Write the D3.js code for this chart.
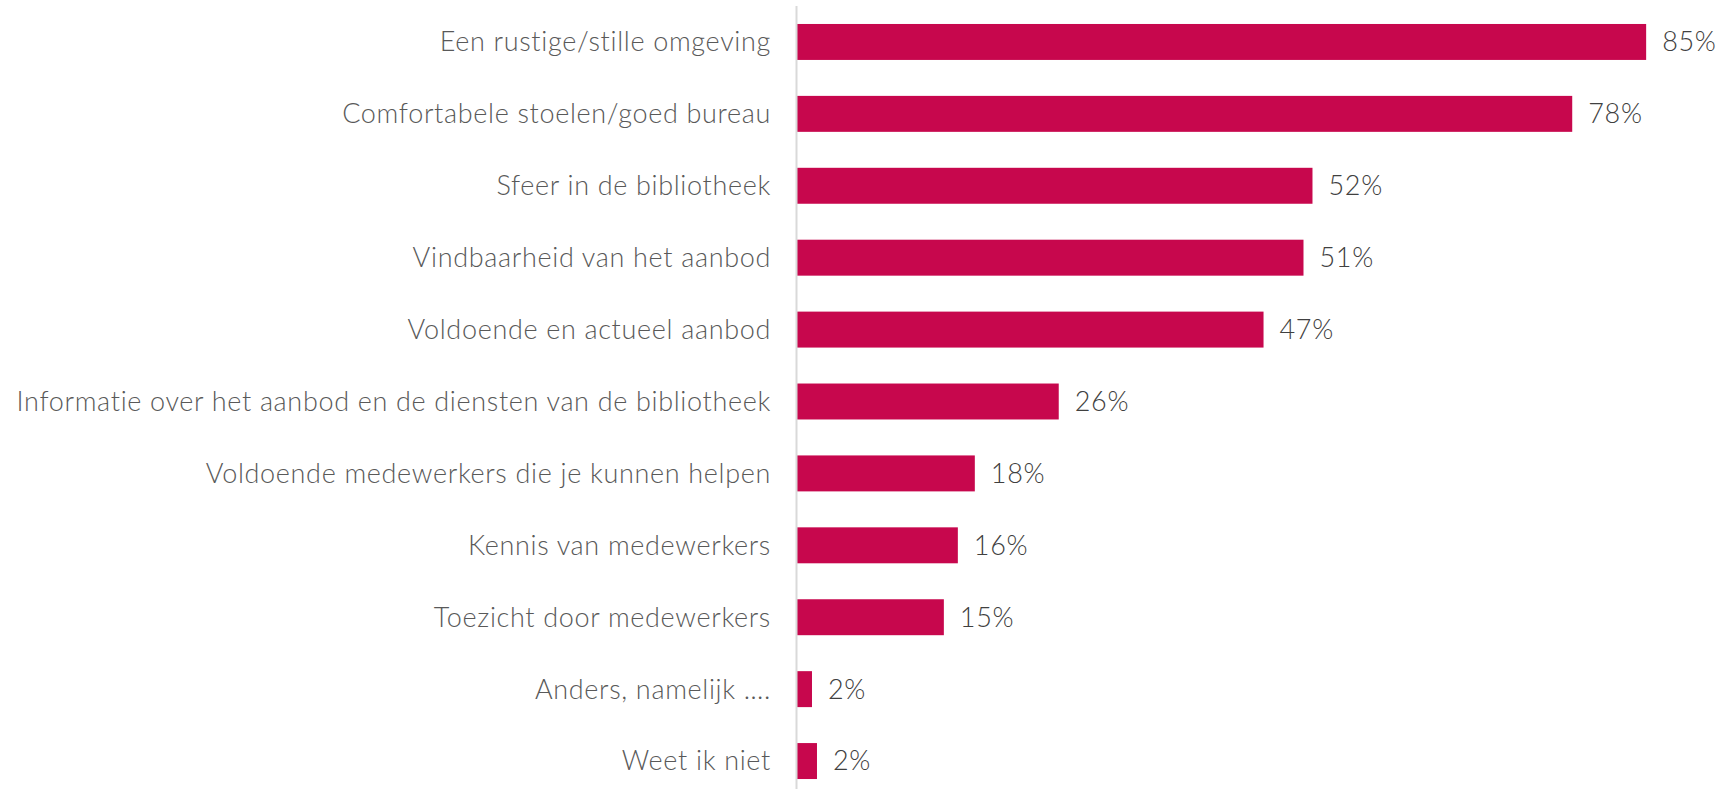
<!DOCTYPE html>
<html>
<head>
<meta charset="utf-8">
<script src="https://cdnjs.cloudflare.com/ajax/libs/d3/7.8.5/d3.min.js"></script>
<style>
    html, body { margin: 0; padding: 0; background: #fff; }
    svg { display: block; }
    .cat { font-family: Lato, "Open Sans", sans-serif; font-weight: 300; fill: #595959; letter-spacing: 0.67px; }
    .val { font-family: Lato, "Open Sans", sans-serif; font-weight: 300; fill: #404040; letter-spacing: 0.67px; }
</style>
</head>
<body>
<svg id="chart"></svg>
<script>
const width = 1732, height = 789;

const categories = [
    "Een rustige/stille omgeving",
    "Comfortabele stoelen/goed bureau",
    "Sfeer in de bibliotheek",
    "Vindbaarheid van het aanbod",
    "Voldoende en actueel aanbod",
    "Informatie over het aanbod en de diensten van de bibliotheek",
    "Voldoende medewerkers die je kunnen helpen",
    "Kennis van medewerkers",
    "Toezicht door medewerkers",
    "Anders, namelijk ….",
    "Weet ik niet"
];
// percentages
const values = [85.0, 77.6, 51.6, 50.7, 46.7, 26.2, 17.8, 16.1, 14.7, 1.5, 2.0];
// labels as printed in the chart
const valueLabels = ["85%", "78%", "52%", "51%", "47%", "26%", "18%", "16%", "15%", "2%", "2%"];

const svg = d3.select('#chart').attr('width', width).attr('height', height);

const x0 = 797;
const x = d3.scaleLinear().domain([0, 100]).range([x0, x0 + 999]);
const y = d3.scaleBand()
    .domain(categories)
    .range([6, 797])
    .paddingInner(0.5)
    .paddingOuter(0.25);

const rows = categories.map((c, i) => ({cat: c, v: values[i], label: valueLabels[i]}));

svg.append('g')
    .selectAll('rect')
    .data(rows)
    .join('rect')
    .attr('x', x(0))
    .attr('y', d => y(d.cat))
    .attr('width', d => x(d.v) - x(0))
    .attr('height', y.bandwidth())
    .attr('fill', '#C7074D');

// vertical axis line
svg.append('line')
    .attr('x1', x0 - 0.5).attr('x2', x0 - 0.5)
    .attr('y1', 6).attr('y2', height)
    .attr('stroke', '#d9d9d9')
    .attr('stroke-width', 2);

svg.append('g')
    .selectAll('text')
    .data(rows)
    .join('text')
    .attr('class', 'cat')
    .attr('x', x0 - 26)
    .attr('y', d => y(d.cat) + y.bandwidth() / 2)
    .attr('dy', '0.35em')
    .attr('text-anchor', 'end')
    .attr('font-size', 27)
    .text(d => d.cat);

svg.append('g')
    .selectAll('text')
    .data(rows)
    .join('text')
    .attr('class', 'val')
    .attr('x', d => x(d.v) + 16)
    .attr('y', d => y(d.cat) + y.bandwidth() / 2)
    .attr('dy', '0.35em')
    .attr('font-size', 27)
    .text(d => d.label);
</script>
</body>
</html>
